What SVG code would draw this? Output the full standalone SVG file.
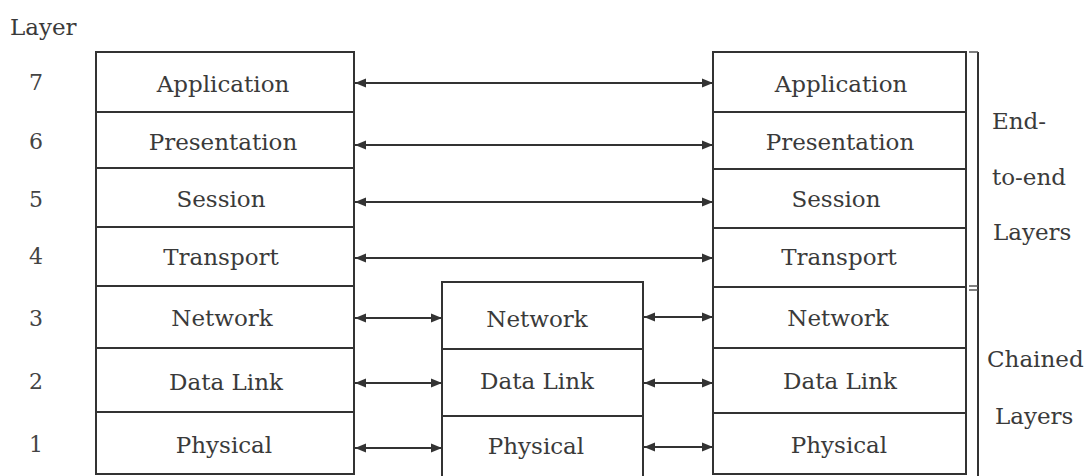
<svg xmlns="http://www.w3.org/2000/svg" width="1092" height="476" viewBox="0 0 1092 476">
<defs>
<style>
.box{fill:#fff;stroke:#333;stroke-width:2}
.lbl{font-family:"DejaVu Serif","Liberation Serif",serif;font-size:23px;fill:#3a3a3a;text-anchor:middle}
.side{font-family:"DejaVu Serif","Liberation Serif",serif;font-size:23px;fill:#3a3a3a}
.num{font-family:"DejaVu Serif","Liberation Serif",serif;font-size:22px;fill:#444;text-anchor:middle}
.conn{stroke:#333;stroke-width:2;fill:none;marker-start:url(#ah);marker-end:url(#ah)}
</style>
<marker id="ah" viewBox="0 0 10 10" refX="10" refY="5" markerWidth="11" markerHeight="11" markerUnits="userSpaceOnUse" orient="auto-start-reverse">
<path d="M0,1 L10,5 L0,9 Z" fill="#333"/>
</marker>
</defs>
<rect width="1092" height="476" fill="#fff"/>

<text class="side" x="10" y="35">Layer</text>
<g id="layer-numbers">
<text class="num" x="36" y="90">7</text>
<text class="num" x="36" y="149">6</text>
<text class="num" x="36" y="207">5</text>
<text class="num" x="36" y="264">4</text>
<text class="num" x="36" y="326">3</text>
<text class="num" x="36" y="389">2</text>
<text class="num" x="36" y="452">1</text>
</g>

<g id="left-stack">
<g id="left-application"><rect class="box" x="96" y="52" width="258" height="60"/><text class="lbl" x="223" y="92">Application</text></g>
<g id="left-presentation"><rect class="box" x="96" y="112" width="258" height="56"/><text class="lbl" x="223" y="150">Presentation</text></g>
<g id="left-session"><rect class="box" x="96" y="168" width="258" height="59"/><text class="lbl" x="221" y="207">Session</text></g>
<g id="left-transport"><rect class="box" x="96" y="227" width="258" height="59"/><text class="lbl" x="221" y="265">Transport</text></g>
<g id="left-network"><rect class="box" x="96" y="286" width="258" height="62"/><text class="lbl" x="222" y="326">Network</text></g>
<g id="left-datalink"><rect class="box" x="96" y="348" width="258" height="64"/><text class="lbl" x="226" y="390">Data Link</text></g>
<g id="left-physical"><rect class="box" x="96" y="412" width="258" height="62"/><text class="lbl" x="224" y="453">Physical</text></g>
</g>

<g id="middle-stack">
<g id="mid-network"><rect class="box" x="442" y="282" width="201" height="67"/><text class="lbl" x="537" y="327">Network</text></g>
<g id="mid-datalink"><rect class="box" x="442" y="349" width="201" height="67"/><text class="lbl" x="537" y="389">Data Link</text></g>
<g id="mid-physical"><rect class="box" x="442" y="416" width="201" height="62"/><text class="lbl" x="536" y="454">Physical</text></g>
</g>

<g id="right-stack">
<g id="right-application"><rect class="box" x="713" y="52" width="253" height="60"/><text class="lbl" x="841" y="92">Application</text></g>
<g id="right-presentation"><rect class="box" x="713" y="112" width="253" height="57"/><text class="lbl" x="840" y="150">Presentation</text></g>
<g id="right-session"><rect class="box" x="713" y="169" width="253" height="59"/><text class="lbl" x="836" y="207">Session</text></g>
<g id="right-transport"><rect class="box" x="713" y="228" width="253" height="59"/><text class="lbl" x="839" y="265">Transport</text></g>
<g id="right-network"><rect class="box" x="713" y="287" width="253" height="61"/><text class="lbl" x="838" y="326">Network</text></g>
<g id="right-datalink"><rect class="box" x="713" y="348" width="253" height="65"/><text class="lbl" x="840" y="389">Data Link</text></g>
<g id="right-physical"><rect class="box" x="713" y="413" width="253" height="61"/><text class="lbl" x="839" y="453">Physical</text></g>
</g>

<g id="bracket">
<line x1="978" y1="52" x2="978" y2="476" stroke="#333" stroke-width="2"/>
<line x1="969" y1="52" x2="978" y2="52" stroke="#555" stroke-width="1.5"/>
<line x1="969" y1="286" x2="978" y2="286" stroke="#555" stroke-width="1.5"/>
<line x1="969" y1="290" x2="978" y2="290" stroke="#555" stroke-width="1.5"/>
<text class="side" x="992" y="129">End-</text>
<text class="side" x="992" y="185">to-end</text>
<text class="side" x="993" y="240">Layers</text>
<text class="side" x="987" y="367">Chained</text>
<text class="side" x="995" y="424">Layers</text>
</g>

<g id="connectors">
<line class="conn" x1="355" y1="83" x2="713" y2="83"/>
<line class="conn" x1="355" y1="145" x2="713" y2="145"/>
<line class="conn" x1="355" y1="202" x2="713" y2="202"/>
<line class="conn" x1="355" y1="258" x2="713" y2="258"/>
<line class="conn" x1="355" y1="318" x2="442" y2="318"/>
<line class="conn" x1="355" y1="383" x2="442" y2="383"/>
<line class="conn" x1="355" y1="448" x2="442" y2="448"/>
<line class="conn" x1="644" y1="317" x2="713" y2="317"/>
<line class="conn" x1="644" y1="383" x2="713" y2="383"/>
<line class="conn" x1="644" y1="447" x2="713" y2="447"/>
</g>
</svg>
